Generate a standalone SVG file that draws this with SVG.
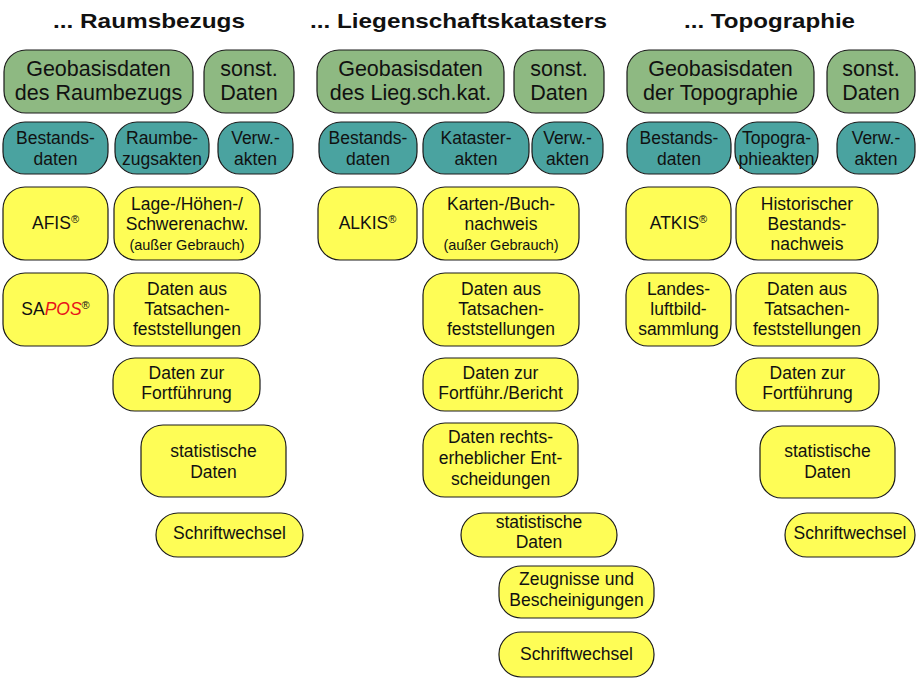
<svg xmlns="http://www.w3.org/2000/svg" width="916" height="691" viewBox="0 0 916 691">
<style>
  text { font-family: "Liberation Sans", Arial, Helvetica, sans-serif; fill: #111; text-anchor: middle; }
  .title { font-size: 21px; font-weight: bold; }
  .g rect { fill: #8eb982; stroke: #1a1a1a; stroke-width: 1.2; }
  .t rect { fill: #4aa3a0; stroke: #1a1a1a; stroke-width: 1.2; }
  .y rect { fill: #fefd56; stroke: #1a1a1a; stroke-width: 1.2; }
  .g text { font-size: 21.5px; }
  .t text { font-size: 17.5px; }
  .y text { font-size: 17.5px; }
  .y text.small { font-size: 14.5px; }
  .reg { font-size: 11px; }
  .red { fill: #e8141b; font-style: italic; }
</style>
<rect width="916" height="691" fill="#ffffff"/>
<g id="titles">
  <text class="title" x="149" y="28" textLength="192" lengthAdjust="spacingAndGlyphs">... Raumsbezugs</text>
  <text class="title" x="458.5" y="28" textLength="297" lengthAdjust="spacingAndGlyphs">... Liegenschaftskatasters</text>
  <text class="title" x="769.5" y="28" textLength="171" lengthAdjust="spacingAndGlyphs">... Topographie</text>
</g>
<g id="connectors"></g>

<!-- Column 1 -->
<g id="g1-geo" class="g"><rect x="4" y="50" width="189" height="63" rx="22"/><text x="98.5" y="76">Geobasisdaten</text><text x="98.5" y="100">des Raumbezugs</text></g>
<g id="g1-sonst" class="g"><rect x="204" y="50" width="90" height="63" rx="22"/><text x="249" y="76">sonst.</text><text x="249" y="100">Daten</text></g>
<g id="t1-best" class="t"><rect x="3" y="122" width="105" height="52" rx="22"/><text x="55.5" y="144">Bestands-</text><text x="55.5" y="165">daten</text></g>
<g id="t1-raum" class="t"><rect x="115" y="122" width="94" height="52" rx="22"/><text x="162" y="144">Raumbe-</text><text x="162" y="165">zugsakten</text></g>
<g id="t1-verw" class="t"><rect x="218" y="122" width="75" height="52" rx="22"/><text x="255.5" y="144">Verw.-</text><text x="255.5" y="165">akten</text></g>
<g id="y1-afis" class="y"><rect x="3" y="187" width="105" height="73" rx="22"/><text x="55.5" y="229">AFIS<tspan class="reg" dy="-6">®</tspan></text></g>
<g id="y1-lage" class="y"><rect x="114" y="187" width="146" height="73" rx="22"/><text x="187" y="210">Lage-/Höhen-/</text><text x="187" y="230">Schwerenachw.</text><text class="small" x="187" y="250">(außer Gebrauch)</text></g>
<g id="y1-sapos" class="y"><rect x="3" y="273" width="105" height="73" rx="22"/><text x="55.5" y="315">SA<tspan class="red">POS</tspan><tspan class="reg" dy="-6">®</tspan></text></g>
<g id="y1-tats" class="y"><rect x="114" y="273" width="146" height="73" rx="22"/><text x="187" y="295">Daten aus</text><text x="187" y="315">Tatsachen-</text><text x="187" y="335">feststellungen</text></g>
<g id="y1-fort" class="y"><rect x="113" y="358" width="147" height="53" rx="22"/><text x="186.5" y="379">Daten zur</text><text x="186.5" y="399">Fortführung</text></g>
<g id="y1-stat" class="y"><rect x="141" y="425" width="145" height="72" rx="22"/><text x="213.5" y="457">statistische</text><text x="213.5" y="478">Daten</text></g>
<g id="y1-schrift" class="y"><rect x="156" y="513" width="147" height="44" rx="22"/><text x="229.5" y="539">Schriftwechsel</text></g>

<!-- Column 2 -->
<g id="g2-geo" class="g"><rect x="317" y="50" width="187" height="63" rx="22"/><text x="410.5" y="76">Geobasisdaten</text><text x="410.5" y="100">des Lieg.sch.kat.</text></g>
<g id="g2-sonst" class="g"><rect x="514" y="50" width="90" height="63" rx="22"/><text x="559" y="76">sonst.</text><text x="559" y="100">Daten</text></g>
<g id="t2-best" class="t"><rect x="319" y="122" width="98" height="52" rx="22"/><text x="368" y="144">Bestands-</text><text x="368" y="165">daten</text></g>
<g id="t2-kat" class="t"><rect x="423" y="122" width="106" height="52" rx="22"/><text x="476" y="144">Kataster-</text><text x="476" y="165">akten</text></g>
<g id="t2-verw" class="t"><rect x="532" y="122" width="71" height="52" rx="22"/><text x="567.5" y="144">Verw.-</text><text x="567.5" y="165">akten</text></g>
<g id="y2-alkis" class="y"><rect x="318" y="187" width="99" height="73" rx="22"/><text x="367.5" y="229">ALKIS<tspan class="reg" dy="-6">®</tspan></text></g>
<g id="y2-karten" class="y"><rect x="423" y="187" width="156" height="73" rx="22"/><text x="501" y="210">Karten-/Buch-</text><text x="501" y="230">nachweis</text><text class="small" x="501" y="250">(außer Gebrauch)</text></g>
<g id="y2-tats" class="y"><rect x="423" y="273" width="156" height="73" rx="22"/><text x="501" y="295">Daten aus</text><text x="501" y="315">Tatsachen-</text><text x="501" y="335">feststellungen</text></g>
<g id="y2-fort" class="y"><rect x="423" y="358" width="155" height="53" rx="22"/><text x="500.5" y="379">Daten zur</text><text x="500.5" y="399">Fortführ./Bericht</text></g>
<g id="y2-recht" class="y"><rect x="423" y="423" width="155" height="74" rx="22"/><text x="500.5" y="443">Daten rechts-</text><text x="500.5" y="464">erheblicher Ent-</text><text x="500.5" y="485">scheidungen</text></g>
<g id="y2-stat" class="y"><rect x="461" y="513" width="156" height="44" rx="22"/><text x="539" y="528">statistische</text><text x="539" y="548">Daten</text></g>
<g id="y2-zeug" class="y"><rect x="499" y="566" width="155" height="52" rx="22"/><text x="576.5" y="585">Zeugnisse und</text><text x="576.5" y="606">Bescheinigungen</text></g>
<g id="y2-schrift" class="y"><rect x="499" y="632" width="155" height="45" rx="22"/><text x="576.5" y="660">Schriftwechsel</text></g>

<!-- Column 3 -->
<g id="g3-geo" class="g"><rect x="627" y="50" width="187" height="63" rx="22"/><text x="720.5" y="76">Geobasisdaten</text><text x="720.5" y="100">der Topographie</text></g>
<g id="g3-sonst" class="g"><rect x="827" y="50" width="88" height="63" rx="22"/><text x="871" y="76">sonst.</text><text x="871" y="100">Daten</text></g>
<g id="t3-best" class="t"><rect x="627" y="122" width="104" height="52" rx="22"/><text x="679" y="144">Bestands-</text><text x="679" y="165">daten</text></g>
<g id="t3-topo" class="t"><rect x="735" y="122" width="83" height="52" rx="22"/><text x="776.5" y="144">Topogra-</text><text x="776.5" y="165">phieakten</text></g>
<g id="t3-verw" class="t"><rect x="837" y="122" width="78" height="52" rx="22"/><text x="876" y="144">Verw.-</text><text x="876" y="165">akten</text></g>
<g id="y3-atkis" class="y"><rect x="626" y="187" width="105" height="73" rx="22"/><text x="678.5" y="229">ATKIS<tspan class="reg" dy="-6">®</tspan></text></g>
<g id="y3-hist" class="y"><rect x="736" y="187" width="142" height="73" rx="22"/><text x="807" y="210">Historischer</text><text x="807" y="230">Bestands-</text><text x="807" y="250">nachweis</text></g>
<g id="y3-landes" class="y"><rect x="626" y="273" width="105" height="73" rx="22"/><text x="678.5" y="295">Landes-</text><text x="678.5" y="315">luftbild-</text><text x="678.5" y="335">sammlung</text></g>
<g id="y3-tats" class="y"><rect x="736" y="273" width="142" height="73" rx="22"/><text x="807" y="295">Daten aus</text><text x="807" y="315">Tatsachen-</text><text x="807" y="335">feststellungen</text></g>
<g id="y3-fort" class="y"><rect x="736" y="358" width="143" height="53" rx="22"/><text x="807.5" y="379">Daten zur</text><text x="807.5" y="399">Fortführung</text></g>
<g id="y3-stat" class="y"><rect x="760" y="426" width="135" height="72" rx="22"/><text x="827.5" y="457">statistische</text><text x="827.5" y="478">Daten</text></g>
<g id="y3-schrift" class="y"><rect x="785" y="513" width="130" height="44" rx="22"/><text x="850" y="539">Schriftwechsel</text></g>
</svg>
